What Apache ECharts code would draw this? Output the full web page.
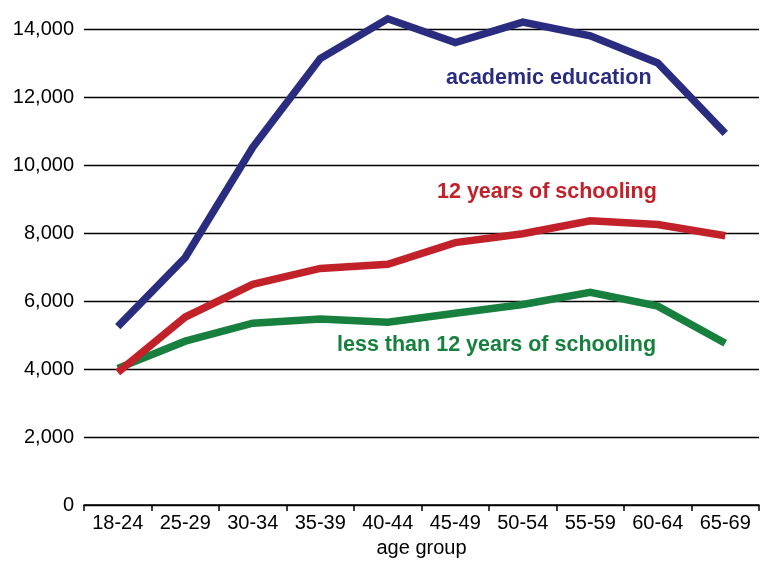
<!DOCTYPE html>
<html>
<head>
<meta charset="utf-8">
<script src="https://cdn.jsdelivr.net/npm/echarts@6/dist/echarts.min.js"></script>
<style>html,body{margin:0;padding:0;background:#fff}#c{width:761px;height:563px}</style>
</head>
<body>
<div id="c"></div>
<script>
var categories = ['18-24','25-29','30-34','35-39','40-44','45-49','50-54','55-59','60-64','65-69'];
var academic = [5250, 7280, 10520, 13130, 14300, 13600, 14200, 13800, 13000, 10930];
var twelveYears = [3900, 5530, 6490, 6960, 7080, 7720, 7980, 8360, 8250, 7920];
var lessThan12 = [4020, 4820, 5350, 5470, 5380, 5640, 5900, 6260, 5850, 4760];
var yTicks = [0, 2000, 4000, 6000, 8000, 10000, 12000, 14000];
var seriesLabels = ['academic education', '12 years of schooling', 'less than 12 years of schooling'];

var sans = '"Liberation Sans", Arial, sans-serif';
var labelFont = 'bold 21.5px "Liberation Sans", Arial, sans-serif';
var chart = echarts.init(document.getElementById('c'), null, {renderer: 'canvas'});
chart.setOption({
  animation: false,
  backgroundColor: '#fff',
  grid: {left: 84, right: 2, top: 29, bottom: 55, containLabel: false},
  xAxis: {
    type: 'category',
    data: categories,
    boundaryGap: true,
    name: 'age group',
    nameLocation: 'middle',
    nameGap: 32,
    nameTextStyle: {fontFamily: sans, fontSize: 20, color: '#000'},
    axisLine: {show: true, lineStyle: {color: '#000', width: 1.5}},
    axisTick: {show: true, length: 6, inside: false, alignWithLabel: false, lineStyle: {color: '#000', width: 1.5}},
    axisLabel: {fontFamily: sans, fontSize: 20, color: '#000', margin: 8, interval: 0},
    splitLine: {show: false}
  },
  yAxis: {
    type: 'value',
    min: yTicks[0],
    max: yTicks[yTicks.length - 1],
    interval: 2000,
    axisLine: {show: false},
    axisTick: {show: false},
    axisLabel: {
      fontFamily: sans, fontSize: 20, color: '#000', margin: 10,
      formatter: function (v) { return v.toLocaleString('en-US'); }
    },
    splitLine: {show: true, lineStyle: {color: '#000', width: 1.3}}
  },
  series: [
    {name: seriesLabels[0], type: 'line', data: academic, clip: false, symbol: 'none',
     lineStyle: {color: '#2a2d7f', width: 7.5, join: 'miter'}, z: 3},
    {name: seriesLabels[1], type: 'line', data: twelveYears, clip: false, symbol: 'none',
     lineStyle: {color: '#c2212a', width: 7.5, join: 'miter'}, z: 4},
    {name: seriesLabels[2], type: 'line', data: lessThan12, clip: false, symbol: 'none',
     lineStyle: {color: '#17803f', width: 7.5, join: 'miter'}, z: 2}
  ],
  graphic: [
    {type: 'text', x: 446, y: 78, style: {text: seriesLabels[0], fill: '#2a2d7f', verticalAlign: 'middle', font: labelFont}},
    {type: 'text', x: 437, y: 192, style: {text: seriesLabels[1], fill: '#c2212a', verticalAlign: 'middle', font: labelFont}},
    {type: 'text', x: 337, y: 345, style: {text: seriesLabels[2], fill: '#17803f', verticalAlign: 'middle', font: labelFont}}
  ]
});
</script>
</body>
</html>
